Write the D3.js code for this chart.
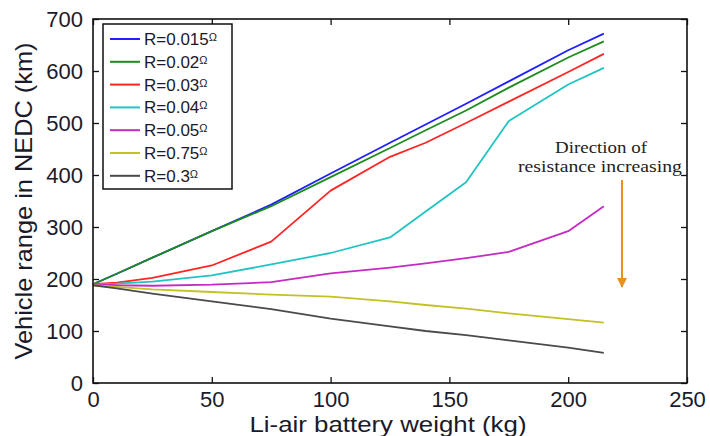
<!DOCTYPE html>
<html>
<head>
<meta charset="utf-8">
<script src="https://cdn.jsdelivr.net/npm/d3@7"></script>
<style>
  body { margin: 0; background: #fff; }
  svg { display: block; font-family: Arial, "Liberation Sans", sans-serif; }
</style>
</head>
<body>
<div id="chart"></div>
<script>
// Li-air battery weight vs NEDC range, one line per internal resistance
const weights = [0, 10, 25, 50, 75, 100, 125, 140, 157, 175, 200, 215];

const seriesNames = ["R=0.015", "R=0.02", "R=0.03", "R=0.04", "R=0.05", "R=0.75", "R=0.3"];
const seriesColors = ["#1f1fff", "#1f8a1f", "#ff2525", "#20c4c4", "#c42bc4", "#c2c224", "#4a4a4a"];

const r0015 = [190, 210, 241, 292, 343, 403, 462, 497, 537, 580, 640, 672];
const r002  = [190, 210, 241, 292, 340, 396, 452, 486, 524, 568, 626, 657];
const r003  = [190, 193, 202, 226, 272, 370, 435, 462, 500, 541, 598, 633];
const r004  = [190, 191, 195, 207, 228, 250, 280, 330, 386, 504, 574, 606];
const r005  = [190, 188, 187, 189, 194, 211, 222, 230, 240, 252, 292, 340];
const r075  = [188, 185, 180, 175, 170, 166, 157, 150, 143, 134, 123, 116];
const r03   = [188, 182, 172, 157, 142, 124, 109, 100, 92, 82, 68, 58];
const seriesValues = [r0015, r002, r003, r004, r005, r075, r03];

const xTicks = [0, 50, 100, 150, 200, 250];
const yTicks = [0, 100, 200, 300, 400, 500, 600, 700];

const width = 710, height = 436;
const margin = { top: 19, right: 23, bottom: 53, left: 93 };
const innerW = width - margin.left - margin.right;
const innerH = height - margin.top - margin.bottom;

const svg = d3.select("#chart").append("svg")
  .attr("width", width)
  .attr("height", height);

const g = svg.append("g")
  .attr("transform", `translate(${margin.left},${margin.top})`);

const x = d3.scaleLinear().domain([0, 250]).range([0, innerW]);
const y = d3.scaleLinear().domain([0, 700]).range([innerH, 0]);

// lines
const line = d3.line()
  .x((d, i) => x(weights[i]))
  .y(d => y(d));

g.append("g")
  .selectAll("path")
  .data(seriesValues)
  .enter().append("path")
  .attr("d", d => line(d))
  .attr("fill", "none")
  .attr("stroke", (d, i) => seriesColors[i])
  .attr("stroke-width", 1.8)
  .attr("stroke-linejoin", "round");

// axes, ticks pointing inwards on all four sides (matlab box)
const tickColor = "#111";
function styleAxis(sel) {
  sel.select(".domain").remove();
  sel.selectAll(".tick line").attr("stroke", tickColor).attr("stroke-width", 1.3);
  sel.selectAll("text")
    .attr("fill", "#1a1a2a")
    .attr("font-size", 22);
}

g.append("g")
  .attr("transform", `translate(0,${innerH})`)
  .call(d3.axisBottom(x).tickValues(xTicks).tickSize(-6).tickPadding(8))
  .call(styleAxis);

g.append("g")
  .call(d3.axisTop(x).tickValues(xTicks).tickSize(-6).tickFormat(""))
  .call(styleAxis);

g.append("g")
  .call(d3.axisLeft(y).tickValues(yTicks).tickSize(-6).tickPadding(10))
  .call(styleAxis);

g.append("g")
  .attr("transform", `translate(${innerW},0)`)
  .call(d3.axisRight(y).tickValues(yTicks).tickSize(-6).tickFormat(""))
  .call(styleAxis);

// frame
g.append("rect")
  .attr("width", innerW)
  .attr("height", innerH)
  .attr("fill", "none")
  .attr("stroke", "#111")
  .attr("stroke-width", 1.6);

// axis titles
svg.append("text")
  .attr("x", 388)
  .attr("y", 432)
  .attr("text-anchor", "middle")
  .attr("font-size", 22)
  .attr("fill", "#1a1a2a")
  .attr("textLength", 277)
  .attr("lengthAdjust", "spacingAndGlyphs")
  .text("Li-air battery weight (kg)");

svg.append("text")
  .attr("transform", "translate(32,201) rotate(-90)")
  .attr("text-anchor", "middle")
  .attr("font-size", 24)
  .attr("fill", "#1a1a2a")
  .attr("textLength", 317)
  .attr("lengthAdjust", "spacingAndGlyphs")
  .text("Vehicle range in NEDC (km)");

// legend
const legend = svg.append("g").attr("transform", "translate(103,24)");
legend.append("rect")
  .attr("width", 129)
  .attr("height", 165)
  .attr("fill", "#fff")
  .attr("stroke", "#111")
  .attr("stroke-width", 1.5);

const rows = legend.selectAll("g.row")
  .data(seriesNames)
  .enter().append("g")
  .attr("class", "row")
  .attr("transform", (d, i) => `translate(0,${15 + i * 22.8})`);

rows.append("line")
  .attr("x1", 7).attr("x2", 37)
  .attr("stroke", (d, i) => seriesColors[i])
  .attr("stroke-width", 2);

const labels = rows.append("text")
  .attr("x", 41)
  .attr("y", 6)
  .attr("font-size", 17)
  .attr("fill", "#1a1a2a");
labels.append("tspan").text(d => d);
labels.append("tspan")
  .attr("font-size", 11)
  .attr("dy", -4)
  .text("\u03A9");

// annotation
const note = svg.append("g")
  .attr("font-family", "'Liberation Serif', 'Times New Roman', serif")
  .attr("fill", "#222")
  .attr("text-anchor", "middle");
note.append("text")
  .attr("x", 601).attr("y", 153)
  .attr("font-size", 17)
  .attr("textLength", 92)
  .attr("lengthAdjust", "spacingAndGlyphs")
  .text("Direction of");
note.append("text")
  .attr("x", 600).attr("y", 172)
  .attr("font-size", 17)
  .attr("textLength", 164)
  .attr("lengthAdjust", "spacingAndGlyphs")
  .text("resistance increasing");

svg.append("defs").append("marker")
  .attr("id", "arrow")
  .attr("viewBox", "0 -5 10 10")
  .attr("refX", 9)
  .attr("refY", 0)
  .attr("markerWidth", 5)
  .attr("markerHeight", 5)
  .attr("markerUnits", "strokeWidth")
  .attr("orient", "auto")
  .append("path")
  .attr("d", "M0,-5L10,0L0,5Z")
  .attr("fill", "#e8921c");

svg.append("line")
  .attr("x1", 622).attr("y1", 180)
  .attr("x2", 622).attr("y2", 287)
  .attr("stroke", "#e8921c")
  .attr("stroke-width", 2)
  .attr("marker-end", "url(#arrow)");
</script>
</body>
</html>
